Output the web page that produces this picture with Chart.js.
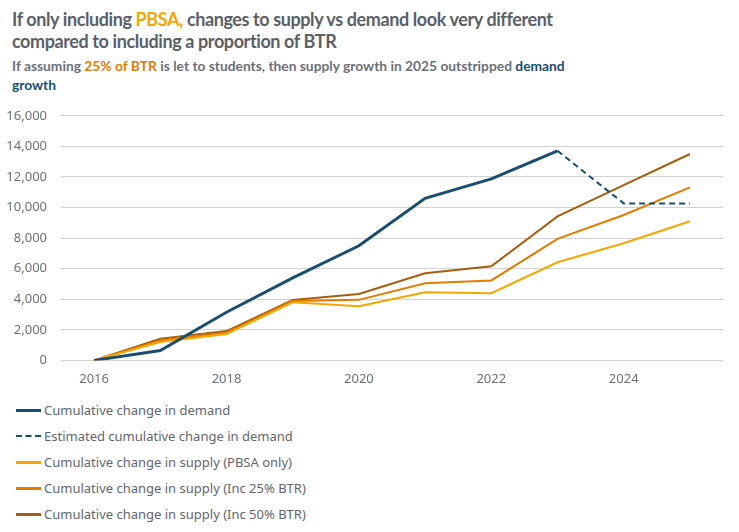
<!DOCTYPE html>
<html>
<head>
<meta charset="utf-8">
<script src="https://cdn.jsdelivr.net/npm/chart.js@4"></script>
<style>
  body { margin: 0; background: #fff; font-family: "Noto Sans", sans-serif; }
  #wrap { position: relative; width: 739px; height: 532px; overflow: hidden; }
  .title { position: absolute; left: 12px; top: 8px; width: 565px; font-family: Lato, sans-serif; font-size: 18px; letter-spacing: -0.4px; font-weight: 700; color: #5b6068; line-height: 22px; }
  .sub { position: absolute; left: 12px; top: 56px; width: 585px; font-family: Lato, sans-serif; font-size: 13.8px; font-weight: 700; color: #6b7079; line-height: 19px; }
  .chartbox { position: absolute; left: 0; top: 94px; width: 739px; height: 296px; }
  #legend { position: absolute; left: 16px; top: 397px; }
  .item { display: flex; align-items: center; height: 26px; font-size: 13px; color: #62666e; }
  .sw { width: 25px; height: 0; margin-right: 3px; }
</style>
</head>
<body>
<div id="wrap">
  <div class="title">If only including <span style="color:#F5A700">PBSA,</span> changes to supply vs demand look very different compared to including a proportion of BTR</div>
  <div class="sub">If assuming <span style="color:#E07C00">25% of BTR</span> is let to students, then supply growth in 2025 outstripped <span style="color:#1A4E6E">demand growth</span></div>
  <div class="chartbox"><canvas id="c"></canvas></div>
  <div id="legend"></div>
</div>
<script>
const years = ["2016", "2017", "2018", "2019", "2020", "2021", "2022", "2023", "2024", "2025"];
const demand = [0, 650, 3150, 5400, 7500, 10600, 11870, 13710, null, null];
const demandEstimate = [null, null, null, null, null, null, null, 13710, 10270, 10270];
const supplyPbsa = [0, 1200, 1720, 3800, 3550, 4460, 4400, 6420, 7660, 9100];
const supply25 = [0, 1300, 1820, 3880, 3960, 5050, 5230, 7950, 9510, 11320];
const supply50 = [0, 1420, 1920, 3950, 4350, 5700, 6160, 9420, 11470, 13500];

const datasets = [
  { label: "Cumulative change in demand", data: demand, borderColor: "#1A4E6E", borderWidth: 3 },
  { label: "Estimated cumulative change in demand", data: demandEstimate, borderColor: "#1A4E6E", borderWidth: 2, borderDash: [6, 4] },
  { label: "Cumulative change in supply (PBSA only)", data: supplyPbsa, borderColor: "#F5A700", borderWidth: 2 },
  { label: "Cumulative change in supply (Inc 25% BTR)", data: supply25, borderColor: "#E07C00", borderWidth: 2 },
  { label: "Cumulative change in supply (Inc 50% BTR)", data: supply50, borderColor: "#A65D0E", borderWidth: 2 },
];

const chart = new Chart(document.getElementById("c"), {
  type: "line",
  data: {
    labels: years,
    datasets: datasets.map((d, i) => ({ ...d, pointRadius: 0, tension: 0, spanGaps: false, fill: false, order: i === 0 ? 0 : 1 })),
  },
  options: {
    responsive: true,
    maintainAspectRatio: false,
    animation: false,
    layout: { padding: { left: 4, right: 16, top: 9, bottom: 0 } },
    plugins: { legend: { display: false }, tooltip: { enabled: false } },
    scales: {
      x: {
        offset: true,
        grid: { display: false },
        border: { display: false },
        ticks: { color: "#6b7079", font: { family: "Noto Sans", size: 13 }, maxRotation: 0, autoSkip: false,
          callback: function (v, i) { return i % 2 === 0 ? years[i] : ""; } },
      },
      y: {
        min: 0,
        max: 16000,
        afterFit: s => { s.width = 57; },
        grid: { color: "#d3d3d3", lineWidth: 1, drawTicks: false },
        border: { display: false },
        ticks: { stepSize: 2000, padding: 14, color: "#6b7079", font: { family: "Noto Sans", size: 13 },
          callback: v => v.toLocaleString("en-GB") },
      },
    },
  },
});

// legend built from the chart's datasets
const leg = document.getElementById("legend");
chart.data.datasets.forEach(ds => {
  const row = document.createElement("div");
  row.className = "item";
  const sw = document.createElement("div");
  sw.className = "sw";
  sw.style.borderTop = (ds.borderDash ? "2px dashed " : "3px solid ") + ds.borderColor;
  row.appendChild(sw);
  row.appendChild(document.createTextNode(ds.label));
  leg.appendChild(row);
});
</script>
</body>
</html>
